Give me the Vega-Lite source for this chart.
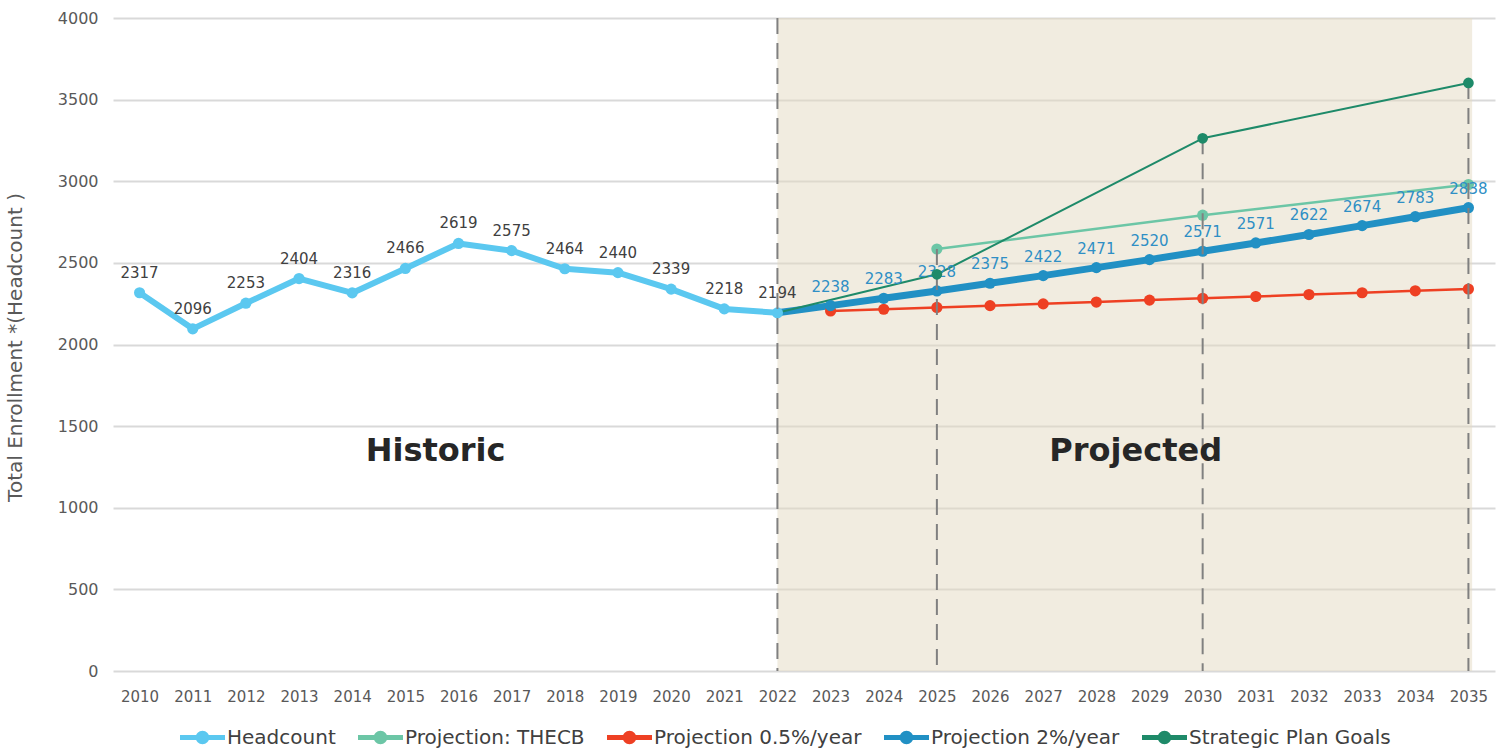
{
  "$schema": "https://vega.github.io/schema/vega-lite/v6.json",
  "width": 1382,
  "height": 653,
  "autosize": {"type": "none"},
  "padding": {"left": 113, "top": 18, "right": 7, "bottom": 82},
  "background": "white",
  "config": {
    "font": "DejaVu Sans",
    "view": {"stroke": null}
  },
  "datasets": {
    "series": [
      {"series": "Headcount", "year": 2010, "value": 2317, "label": "2317"},
      {"series": "Headcount", "year": 2011, "value": 2096, "label": "2096"},
      {"series": "Headcount", "year": 2012, "value": 2253, "label": "2253"},
      {"series": "Headcount", "year": 2013, "value": 2404, "label": "2404"},
      {"series": "Headcount", "year": 2014, "value": 2316, "label": "2316"},
      {"series": "Headcount", "year": 2015, "value": 2466, "label": "2466"},
      {"series": "Headcount", "year": 2016, "value": 2619, "label": "2619"},
      {"series": "Headcount", "year": 2017, "value": 2575, "label": "2575"},
      {"series": "Headcount", "year": 2018, "value": 2464, "label": "2464"},
      {"series": "Headcount", "year": 2019, "value": 2440, "label": "2440"},
      {"series": "Headcount", "year": 2020, "value": 2339, "label": "2339"},
      {"series": "Headcount", "year": 2021, "value": 2218, "label": "2218"},
      {"series": "Headcount", "year": 2022, "value": 2194, "label": "2194"},
      {"series": "Projection: THECB", "year": 2025, "value": 2585, "label": null},
      {"series": "Projection: THECB", "year": 2030, "value": 2792, "label": null},
      {"series": "Projection: THECB", "year": 2035, "value": 2980, "label": null},
      {"series": "Projection 0.5%/year", "year": 2023, "value": 2205, "label": null},
      {"series": "Projection 0.5%/year", "year": 2024, "value": 2216, "label": null},
      {"series": "Projection 0.5%/year", "year": 2025, "value": 2227, "label": null},
      {"series": "Projection 0.5%/year", "year": 2026, "value": 2238, "label": null},
      {"series": "Projection 0.5%/year", "year": 2027, "value": 2249, "label": null},
      {"series": "Projection 0.5%/year", "year": 2028, "value": 2260, "label": null},
      {"series": "Projection 0.5%/year", "year": 2029, "value": 2272, "label": null},
      {"series": "Projection 0.5%/year", "year": 2030, "value": 2283, "label": null},
      {"series": "Projection 0.5%/year", "year": 2031, "value": 2294, "label": null},
      {"series": "Projection 0.5%/year", "year": 2032, "value": 2306, "label": null},
      {"series": "Projection 0.5%/year", "year": 2033, "value": 2317, "label": null},
      {"series": "Projection 0.5%/year", "year": 2034, "value": 2329, "label": null},
      {"series": "Projection 0.5%/year", "year": 2035, "value": 2340, "label": null},
      {"series": "Projection 2%/year", "year": 2022, "value": 2194, "label": null},
      {"series": "Projection 2%/year", "year": 2023, "value": 2238, "label": "2238"},
      {"series": "Projection 2%/year", "year": 2024, "value": 2283, "label": "2283"},
      {"series": "Projection 2%/year", "year": 2025, "value": 2328, "label": "2328"},
      {"series": "Projection 2%/year", "year": 2026, "value": 2375, "label": "2375"},
      {"series": "Projection 2%/year", "year": 2027, "value": 2422, "label": "2422"},
      {"series": "Projection 2%/year", "year": 2028, "value": 2471, "label": "2471"},
      {"series": "Projection 2%/year", "year": 2029, "value": 2520, "label": "2520"},
      {"series": "Projection 2%/year", "year": 2030, "value": 2571, "label": "2571"},
      {"series": "Projection 2%/year", "year": 2031, "value": 2622, "label": "2571"},
      {"series": "Projection 2%/year", "year": 2032, "value": 2674, "label": "2622"},
      {"series": "Projection 2%/year", "year": 2033, "value": 2728, "label": "2674"},
      {"series": "Projection 2%/year", "year": 2034, "value": 2783, "label": "2783"},
      {"series": "Projection 2%/year", "year": 2035, "value": 2838, "label": "2838"},
      {"series": "Strategic Plan Goals", "year": 2022, "value": 2194, "label": null},
      {"series": "Strategic Plan Goals", "year": 2025, "value": 2430, "label": null},
      {"series": "Strategic Plan Goals", "year": 2030, "value": 3263, "label": null},
      {"series": "Strategic Plan Goals", "year": 2035, "value": 3602, "label": null}
    ]
  },
  "layer": [
    {
      "data": {"values": [{"start": 2022, "end": 2035.07, "lo": 0, "hi": 4000}]},
      "mark": {"type": "rect", "color": "#E3D9C2", "opacity": 0.5},
      "encoding": {
        "x": {"field": "start", "type": "quantitative"},
        "x2": {"field": "end"},
        "y": {"field": "lo", "type": "quantitative"},
        "y2": {"field": "hi"}
      }
    },
    {
      "data": {"name": "series"},
      "transform": [{"filter": "datum.series === 'Projection: THECB' || datum.series === 'Projection 0.5%/year'"}],
      "mark": {"type": "line", "strokeWidth": 2.5, "strokeCap": "round", "strokeJoin": "round"},
      "encoding": {
        "x": {
          "field": "year", "type": "quantitative",
          "scale": {"domain": [2009.5, 2035.5], "nice": false, "zero": false},
          "axis": {
            "title": null, "values": [2010,2011,2012,2013,2014,2015,2016,2017,2018,2019,2020,2021,2022,2023,2024,2025,2026,2027,2028,2029,2030,2031,2032,2033,2034,2035],
            "format": "d", "grid": false, "domain": false, "ticks": false,
            "labelFontSize": 15, "labelColor": "#595959", "labelPadding": 18, "labelFont": "DejaVu Sans"
          }
        },
        "y": {
          "field": "value", "type": "quantitative",
          "scale": {"domain": [0, 4000], "nice": false},
          "axis": {
            "title": "Total Enrollment *(Headcount )",
            "values": [0,500,1000,1500,2000,2500,3000,3500,4000],
            "format": "d",
            "grid": true, "gridColor": "#D9D9D9", "gridWidth": 2,
            "domain": false, "ticks": false,
            "labelFontSize": 16, "labelColor": "#595959", "labelPadding": 15,
            "titleFontSize": 20, "titleFontWeight": "normal", "titleColor": "#595959",
            "titleX": -98, "titleY": 329, "titleAngle": -90, "titleAlign": "center", "titleBaseline": "middle"
          }
        },
        "color": {
          "field": "series", "type": "nominal",
          "scale": {
            "domain": ["Headcount", "Projection: THECB", "Projection 0.5%/year", "Projection 2%/year", "Strategic Plan Goals"],
            "range": ["#5BC8F0", "#6CC6A6", "#EE4023", "#2190C4", "#1E8A69"]
          },
          "legend": {
            "title": null, "orient": "none", "direction": "horizontal", "columns": 5,
            "legendX": 67, "legendY": 697,
            "symbolType": "M-1,-0.11H1V0.11H-1Z M-0.3,0A0.3,0.3 0 1,1 0.3,0A0.3,0.3 0 1,1 -0.3,0Z",
            "symbolSize": 2025, "symbolStrokeWidth": 0,
            "labelFontSize": 20, "labelColor": "#404040", "labelOffset": 2,
            "columnPadding": 22, "gridAlign": "none", "labelLimit": 400,
            "encode": {"symbols": {"update": {"fill": {"scale": "color", "field": "value"}, "fillOpacity": {"value": 1}, "stroke": {"value": "transparent"}, "strokeWidth": {"value": 0}, "size": {"value": 2025}, "opacity": {"value": 1}}}}
          }
        }
      }
    },
    {
      "data": {"name": "series"},
      "transform": [{"filter": "datum.series === 'Projection 2%/year'"}],
      "mark": {"type": "line", "strokeWidth": 7, "strokeCap": "round", "strokeJoin": "round"},
      "encoding": {
        "x": {"field": "year", "type": "quantitative"},
        "y": {"field": "value", "type": "quantitative"},
        "color": {"field": "series", "type": "nominal"}
      }
    },
    {
      "data": {"name": "series"},
      "transform": [{"filter": "datum.series === 'Strategic Plan Goals'"}],
      "mark": {"type": "line", "strokeWidth": 2, "strokeCap": "round", "strokeJoin": "round"},
      "encoding": {
        "x": {"field": "year", "type": "quantitative"},
        "y": {"field": "value", "type": "quantitative"},
        "color": {"field": "series", "type": "nominal"}
      }
    },
    {
      "data": {"name": "series"},
      "transform": [{"filter": "datum.series === 'Headcount'"}],
      "mark": {"type": "line", "strokeWidth": 6, "strokeCap": "round", "strokeJoin": "round"},
      "encoding": {
        "x": {"field": "year", "type": "quantitative"},
        "y": {"field": "value", "type": "quantitative"},
        "color": {"field": "series", "type": "nominal"}
      }
    },
    {
      "data": {"name": "series"},
      "transform": [{"filter": "datum.series !== 'Strategic Plan Goals' && (datum.series === 'Headcount' || datum.year > 2022)"}],
      "mark": {"type": "point", "filled": true, "opacity": 1, "size": 125},
      "encoding": {
        "x": {"field": "year", "type": "quantitative"},
        "y": {"field": "value", "type": "quantitative"},
        "color": {"field": "series", "type": "nominal"}
      }
    },
    {
      "data": {"values": [
        {"year": 2022, "lo": 0, "hi": 4000},
        {"year": 2025, "lo": 0, "hi": 2585},
        {"year": 2030, "lo": 0, "hi": 3263},
        {"year": 2035, "lo": 0, "hi": 3602}
      ]},
      "mark": {"type": "rule", "color": "#808080", "strokeWidth": 2, "strokeDash": [16, 9]},
      "encoding": {
        "x": {"field": "year", "type": "quantitative"},
        "y": {"field": "hi", "type": "quantitative"},
        "y2": {"field": "lo"}
      }
    },
    {
      "data": {"name": "series"},
      "transform": [{"filter": "datum.series === 'Headcount'"}],
      "mark": {"type": "text", "dy": -20, "fontSize": 15, "color": "#404040", "baseline": "middle"},
      "encoding": {
        "x": {"field": "year", "type": "quantitative"},
        "y": {"field": "value", "type": "quantitative"},
        "text": {"field": "label"}
      }
    },
    {
      "data": {"name": "series"},
      "transform": [{"filter": "datum.series === 'Projection 2%/year' && datum.label !== null"}],
      "mark": {"type": "text", "dy": -19, "fontSize": 15, "color": "#2F8FC5", "baseline": "middle"},
      "encoding": {
        "x": {"field": "year", "type": "quantitative"},
        "y": {"field": "value", "type": "quantitative"},
        "text": {"field": "label"}
      }
    },
    {
      "data": {"name": "series"},
      "transform": [{"filter": "datum.series === 'Strategic Plan Goals' && datum.year > 2022"}],
      "mark": {"type": "point", "filled": true, "opacity": 1, "size": 115},
      "encoding": {
        "x": {"field": "year", "type": "quantitative"},
        "y": {"field": "value", "type": "quantitative"},
        "color": {"field": "series", "type": "nominal"}
      }
    },
    {
      "data": {"values": [
        {"year": 2015.57, "value": 1350, "label": "Historic"},
        {"year": 2028.74, "value": 1350, "label": "Projected"}
      ]},
      "mark": {"type": "text", "fontSize": 32, "fontWeight": "bold", "color": "#262626", "baseline": "middle", "align": "center"},
      "encoding": {
        "x": {"field": "year", "type": "quantitative"},
        "y": {"field": "value", "type": "quantitative"},
        "text": {"field": "label"}
      }
    }
  ]
}
